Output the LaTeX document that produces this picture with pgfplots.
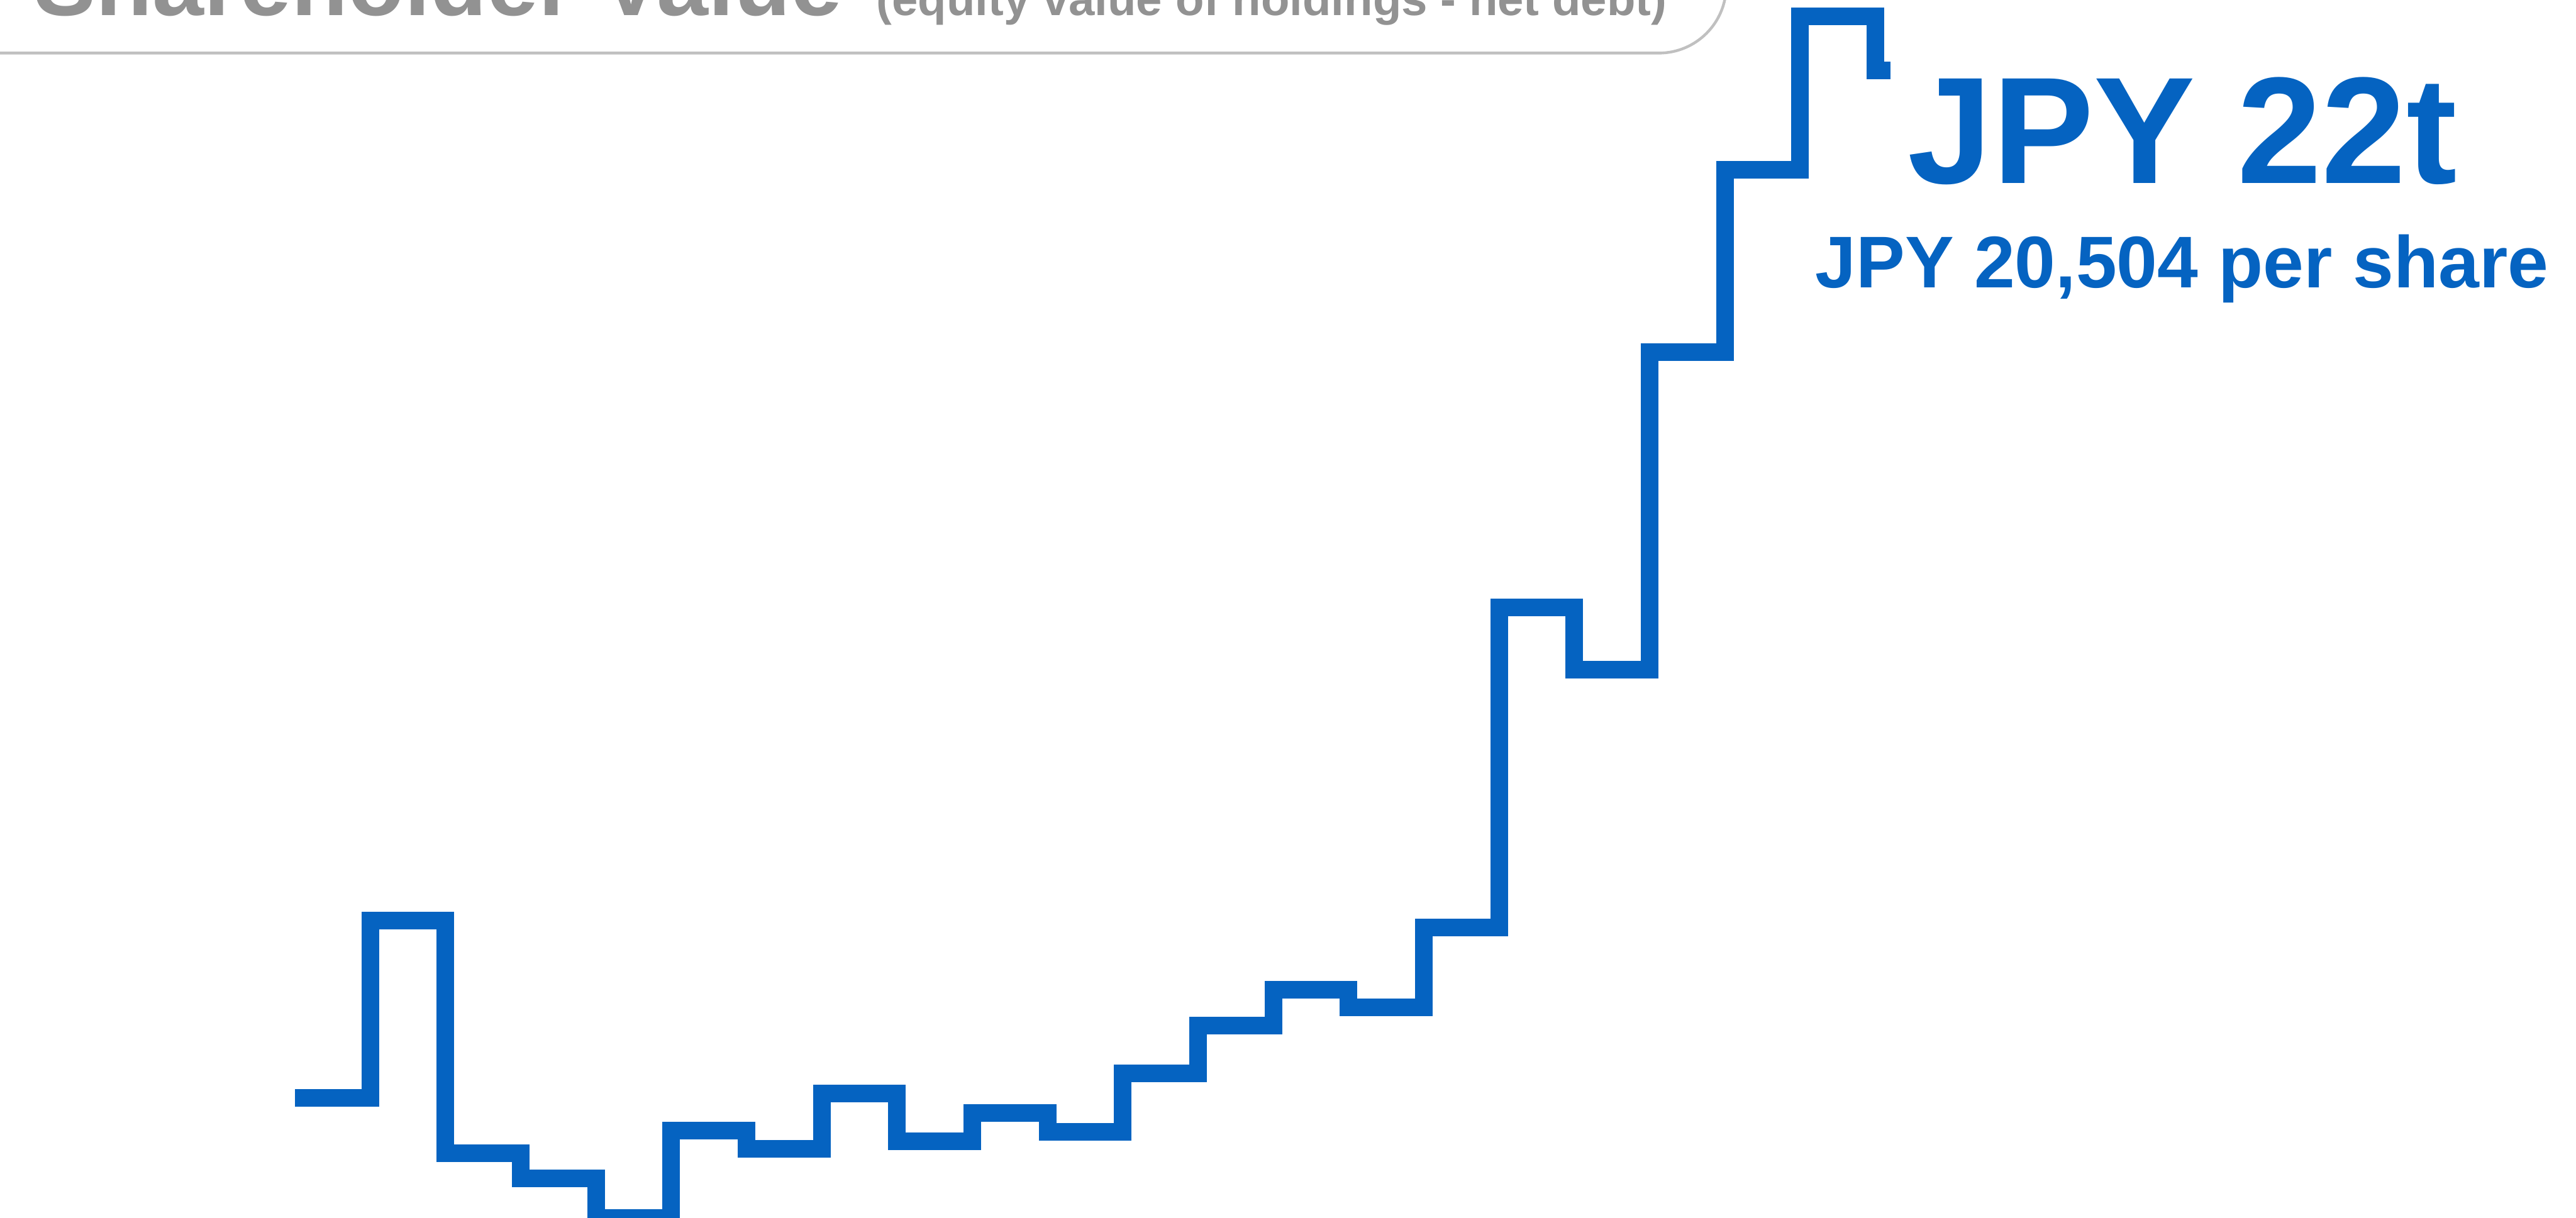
\documentclass[border=0pt]{standalone}
\usepackage{fontspec}
\setmainfont{Liberation Sans}
\usepackage{pgfplots}
\pgfplotsset{compat=1.18}
\definecolor{sbblue}{RGB}{5,99,193}
\definecolor{titlegray}{RGB}{146,146,146}
\definecolor{boxgray}{RGB}{192,192,192}
\begin{document}
\begin{tikzpicture}
\useasboundingbox (0,0) rectangle (512pt,242.1pt);
\clip (0,0) rectangle (512pt,242.1pt);
\begin{axis}[
  at={(0,0)}, anchor=south west,
  width=512pt, height=242.1pt, scale only axis,
  hide axis,
  xmin=-3.9204, xmax=30.309,
  ymin=6.7933, ymax=22.9333,
  clip=true,
]
\addplot[const plot, sbblue, line width=3.5pt, line join=miter, line cap=butt, mark=none]
coordinates {
(0,8.38) (1,10.73) (2,7.65) (3,7.32) (4,6.79) (5,7.95) (6,7.71) (7,8.44)
(8,7.81) (9,8.18) (10,7.93) (11,8.71) (12,9.34) (13,9.82) (14,9.58)
(15,10.64) (16,14.88) (17,14.06) (18,18.27) (19,20.68) (20,22.72)
(21,22.00) (21.2,22.00)
};
\end{axis}
% title box
\draw[boxgray, line width=0.55pt, rounded corners=13.4pt] (-30pt,300pt) rectangle (343.1pt,231.55pt);
\node[anchor=base west, inner sep=0pt, text=titlegray, font=\fontsize{18.4}{20}\selectfont\bfseries] at (6.6pt,239.0pt) {Shareholder Value};
\node[anchor=base west, inner sep=0pt, text=titlegray, font=\fontsize{9.3}{11}\selectfont\bfseries] at (174.0pt,239.0pt) {(equity value of holdings - net debt)};
% value annotations
\node[anchor=base, inner sep=0pt, text=sbblue, font=\fontsize{30.2}{34}\selectfont\bfseries] at (433.8pt,205.7pt) {JPY 22t};
\node[anchor=base, inner sep=0pt, text=sbblue, font=\fontsize{14.56}{17}\selectfont\bfseries] at (433.7pt,184.9pt) {JPY 20,504 per share};
\end{tikzpicture}
\end{document}
